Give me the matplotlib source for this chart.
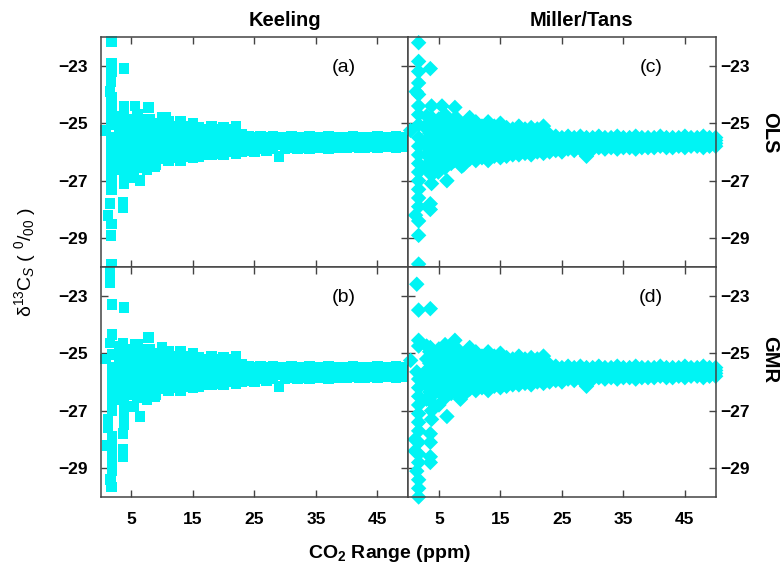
import matplotlib
matplotlib.use("Agg")
import matplotlib.pyplot as plt

plt.rcParams['font.family'] = ['Liberation Sans', 'DejaVu Sans']
plt.rcParams['mathtext.fontset'] = 'custom'
plt.rcParams['mathtext.rm'] = 'Liberation Sans'
plt.rcParams['mathtext.it'] = 'Liberation Sans:italic'
plt.rcParams['mathtext.bf'] = 'Liberation Sans:bold'

# main band of estimates (shared look in all four panels), CO2 range in ppm
band_x = [3, 4, 5, 6, 7, 8, 9, 10, 11, 12, 13, 14, 15, 16, 17, 18, 19, 20, 21, 22,
          23, 24, 25, 26, 27, 28, 29, 30, 31, 32, 33, 34, 35, 36, 37, 38, 39, 40,
          41, 42, 43, 44, 45, 46, 47, 48, 49, 50]
band_top = [-24.75, -24.95, -24.85, -24.7, -24.95, -24.85, -25.05, -24.8, -24.95, -25.1,
            -24.95, -25.1, -25.0, -25.15, -25.2, -25.1, -25.2, -25.15, -25.2, -25.1,
            -25.4, -25.45, -25.5, -25.45, -25.5, -25.45, -25.5, -25.5, -25.45, -25.5,
            -25.5, -25.45, -25.5, -25.5, -25.45, -25.5, -25.5, -25.5, -25.45, -25.5,
            -25.5, -25.5, -25.45, -25.5, -25.5, -25.45, -25.5, -25.5]
band_core = [-25.6, -25.55, -25.65, -25.5, -25.6, -25.55, -25.6, -25.5, -25.6, -25.55,
             -25.6, -25.5, -25.6, -25.55, -25.6, -25.5, -25.55, -25.6, -25.5, -25.55,
             -25.6, -25.6, -25.6, -25.6, -25.6, -25.6, -25.6, -25.6, -25.6, -25.6,
             -25.6, -25.6, -25.6, -25.6, -25.6, -25.6, -25.6, -25.6, -25.6, -25.6,
             -25.6, -25.6, -25.6, -25.6, -25.6, -25.6, -25.6, -25.6]
band_core2 = [-25.8, -25.75, -25.85, -25.75, -25.8, -25.75, -25.8, -25.7, -25.8, -25.75,
              -25.8, -25.7, -25.8, -25.75, -25.8, -25.7, -25.75, -25.8, -25.7, -25.75,
              -25.75, -25.75, -25.75, -25.75, -25.75, -25.72, -25.75, -25.75, -25.72, -25.75,
              -25.72, -25.72, -25.72, -25.75, -25.72, -25.72, -25.72, -25.72, -25.7, -25.72,
              -25.72, -25.7, -25.72, -25.7, -25.7, -25.72, -25.7, -25.7]
band_bot = [-26.6, -26.45, -26.3, -26.55, -26.4, -26.3, -26.45, -26.25, -26.3, -26.2,
            -26.3, -26.15, -26.2, -26.15, -26.1, -26.1, -26.05, -26.1, -26.0, -26.05,
            -26.0, -25.95, -26.0, -25.9, -25.95, -25.9, -26.15, -25.9, -25.85, -25.9,
            -25.85, -25.9, -25.85, -25.85, -25.9, -25.85, -25.85, -25.85, -25.8, -25.85,
            -25.85, -25.8, -25.85, -25.8, -25.8, -25.85, -25.8, -25.8]

# wider scatter at small CO2 range
mid_x = [3, 4, 5, 6, 7, 8, 9, 10, 11, 12, 13, 14, 15, 16, 17, 18, 19, 20, 21, 22,
         3.5, 4.5, 5.5, 6.5, 7.5, 8.5, 9.5, 10.5, 11.5, 12.5]
mid_hi = [-25.2, -25.3, -25.25, -25.1, -25.3, -25.2, -25.35, -25.15, -25.3, -25.35,
          -25.25, -25.35, -25.3, -25.4, -25.4, -25.35, -25.4, -25.4, -25.4, -25.35,
          -24.95, -25.1, -24.9, -25.05, -24.85, -25.0, -25.1, -25.0, -25.15, -25.1]
mid_lo = [-26.1, -26.05, -26.0, -26.2, -26.05, -26.0, -26.1, -25.95, -26.0, -25.95,
          -26.0, -25.9, -25.95, -25.9, -25.9, -25.85, -25.85, -25.9, -25.85, -25.85,
          -26.35, -26.25, -26.45, -26.2, -26.3, -26.15, -26.25, -26.1, -26.15, -26.05]
fill_x = [3.5, 4.5, 5.5, 6.5, 7.5, 8.5, 9.5, 10.5, 11.5, 12.5, 13.5, 14.5, 15.5, 16.5,
          3.5, 4.5, 5.5, 6.5, 7.5, 8.5, 9.5, 10.5, 11.5, 12.5]
fill_y = [-25.35, -25.45, -25.3, -25.4, -25.35, -25.45, -25.4, -25.3, -25.4, -25.45,
          -25.35, -25.4, -25.45, -25.35,
          -25.95, -26.0, -25.9, -26.0, -25.95, -25.9, -26.0, -25.9, -25.95, -25.9]

# outlying points for each panel
keeling_ols_x = [1.75, 1.75, 1.75, 3.8, 1.7, 1.5, 1.75, 1.75, 3.8, 5.6, 7.75, 0.75,
                 1.75, 1.75, 1.75, 1.75, 1.75, 1.75, 1.75, 1.5, 1.2, 1.75, 1.7, 1.75,
                 3.6, 3.6, 3.8, 3.8, 3.8, 3.8, 3.8, 6.4, 5.3, 8.85, 10.5, 7.5, 4.7,
                 1.75, 1.75]
keeling_ols_y = [-22.15, -22.9, -23.2, -23.1, -23.55, -23.9, -24.4, -24.7, -24.4, -24.4,
                 -24.45, -25.25, -25.5, -25.8, -26.1, -26.4, -26.7, -27.0, -27.3, -27.8,
                 -28.2, -28.5, -28.9, -29.9, -27.75, -27.95, -27.1, -26.8, -26.5, -24.7,
                 -25.0, -27.0, -26.8, -26.5, -24.8, -26.6, -26.9, -24.1, -25.05]

keeling_gmr_x = [1.5, 1.5, 1.85, 3.8, 1.85, 1.5, 3.65, 5.6, 7.75, 0.75, 1.9, 1.85,
                 1.85, 1.85, 1.85, 1.85, 1.2, 1.2, 1.85, 1.85, 1.85, 1.85, 1.85, 1.6,
                 1.75, 3.65, 3.65, 3.65, 3.8, 3.8, 3.8, 3.8, 6.4, 5.3, 8.85, 7.5, 1.0,
                 3.8, 1.85]
keeling_gmr_y = [-22.2, -22.55, -23.3, -23.4, -24.35, -24.65, -24.65, -24.7, -24.45, -25.2,
                 -25.5, -25.8, -26.1, -26.4, -26.7, -27.0, -27.3, -27.6, -27.9, -28.2,
                 -28.5, -28.8, -29.1, -29.4, -29.65, -27.8, -28.35, -28.6, -27.2, -26.9,
                 -26.6, -25.0, -27.2, -26.85, -26.5, -26.6, -28.2, -27.5, -25.05]

miller_ols_x = [1.7, 1.7, 1.7, 3.6, 1.7, 1.3, 1.7, 1.7, 1.7, 3.8, 5.5, 7.6, 0.4,
                1.7, 1.7, 1.7, 1.7, 1.7, 1.7, 1.7, 1.7, 1.7, 1.2, 1.7, 1.7, 1.7,
                3.6, 3.6, 3.8, 3.8, 3.8, 3.8, 6.3, 4.9, 8.7, 5.5, 1.7]
miller_ols_y = [-22.2, -22.85, -23.2, -23.1, -23.6, -23.9, -24.0, -24.4, -24.7, -24.4,
                -24.4, -24.45, -25.25, -25.5, -25.8, -26.1, -26.4, -26.7, -27.0, -27.3,
                -27.6, -27.9, -28.2, -28.4, -28.9, -29.9, -27.8, -28.0, -27.1, -26.8,
                -26.5, -24.8, -27.0, -26.7, -26.5, -26.3, -25.05]

miller_gmr_x = [1.4, 1.7, 3.6, 1.7, 1.7, 3.6, 5.5, 7.6, 0.4, 1.4, 1.7, 1.7, 1.7,
                1.7, 1.7, 1.7, 1.7, 1.1, 1.1, 1.7, 1.7, 1.7, 1.4, 1.7, 1.7, 1.7,
                3.6, 3.6, 3.6, 3.6, 3.8, 3.8, 3.8, 3.8, 6.3, 8.5, 5.0]
miller_gmr_y = [-22.6, -23.5, -23.45, -24.55, -24.75, -24.8, -24.85, -24.55, -25.25, -25.65,
                -25.9, -26.2, -26.5, -26.8, -27.1, -27.4, -27.7, -28.0, -28.4, -28.1,
                -28.5, -28.8, -29.1, -29.4, -29.7, -30.0, -27.8, -28.1, -28.6, -28.8,
                -27.3, -27.0, -26.7, -25.1, -27.2, -26.6, -26.8]

y_ticks = [-23, -25, -27, -29]
x_ticks = [5, 15, 25, 35, 45]
col_titles = ['Keeling', 'Miller/Tans']
row_labels = ['OLS', 'GMR']
panel_tags = ['(a)', '(c)', '(b)', '(d)']

fig = plt.figure(figsize=(7.83, 5.75), dpi=100)
gs = fig.add_gridspec(2, 2, left=0.1286, right=0.914, top=0.9357, bottom=0.1357,
                      hspace=0, wspace=0)

outliers = [[(keeling_ols_x, keeling_ols_y), (miller_ols_x, miller_ols_y)],
            [(keeling_gmr_x, keeling_gmr_y), (miller_gmr_x, miller_gmr_y)]]
markers = ['s', 'D']
sizes = [58, 62]
color = '#00F4F4'

for r in range(2):
    for c in range(2):
        ax = fig.add_subplot(gs[r, c])
        kw = dict(marker=markers[c], s=sizes[c], c=color, edgecolors='none',
                  clip_on=False, zorder=2)
        ax.scatter(band_x, band_top, **kw)
        ax.scatter(band_x, band_core, **kw)
        ax.scatter(band_x, band_core2, **kw)
        ax.scatter(band_x, band_bot, **kw)
        ax.scatter(mid_x, mid_hi, **kw)
        ax.scatter(mid_x, mid_lo, **kw)
        ax.scatter(fill_x, fill_y, **kw)
        ox, oy = outliers[r][c]
        ax.scatter(ox, oy, **kw)

        ax.set_xlim(0, 50)
        ax.set_ylim(-30, -22)
        ax.set_xticks(x_ticks)
        ax.set_yticks(y_ticks)
        ax.tick_params(direction='in', length=5, width=1, color='#444444',
                       top=True, bottom=True, left=True, right=True,
                       labelsize=12.5)
        ax.tick_params(axis='x', pad=11)
        if c == 0:
            ax.tick_params(axis='y', labelleft=True, labelright=False, pad=9)
        else:
            ax.tick_params(axis='y', labelleft=False, labelright=True, pad=3)
        ax.tick_params(axis='x', labelbottom=(r == 1))
        for lab in ax.get_xticklabels() + ax.get_yticklabels():
            lab.set_fontweight('bold')
        for sp in ax.spines.values():
            sp.set_color('#444444')
            sp.set_linewidth(1.1)
        ax.text(0.79, 0.866, panel_tags[r * 2 + c], transform=ax.transAxes,
                fontsize=14, ha='center', va='center')

fig.text(285 / 783, 1 - 20 / 575, col_titles[0], fontsize=14.5, fontweight='bold',
         ha='center', va='center')
fig.text(581 / 783, 1 - 20 / 575, col_titles[1], fontsize=14.5, fontweight='bold',
         ha='center', va='center')
fig.text(770 / 783, 1 - 133 / 575, row_labels[0], fontsize=14.5, fontweight='bold',
         rotation=-90, ha='center', va='center')
fig.text(770 / 783, 1 - 360 / 575, row_labels[1], fontsize=14.5, fontweight='bold',
         rotation=-90, ha='center', va='center')

fig.text(390 / 783, 1 - 553 / 575, r'CO$_\mathbf{2}$ Range (ppm)', fontsize=14,
         fontweight='bold', ha='center', va='center')
fig.text(25 / 783, 1 - 262 / 575, 'δ$^{13}$C$_S$ ( $^0$/$_{00}$ )', fontsize=14,
         rotation=90, ha='center', va='center')

fig.savefig('out.png', dpi=100)
